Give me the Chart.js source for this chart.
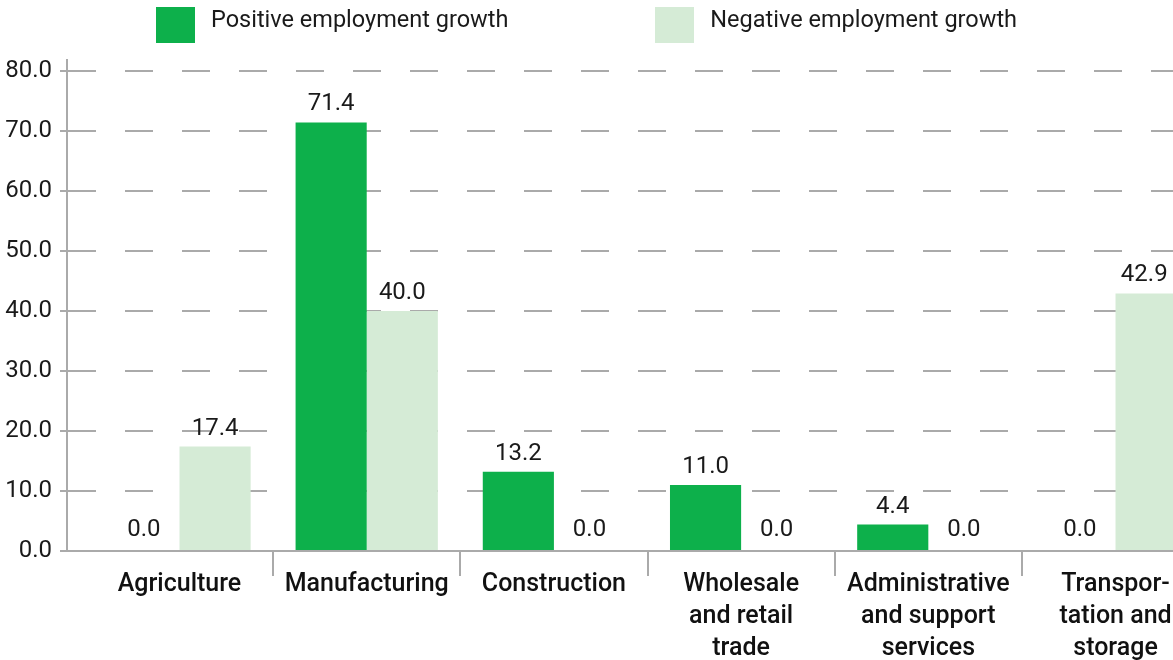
<!DOCTYPE html>
<html>
<head>
<meta charset="utf-8">
<script src="https://cdn.jsdelivr.net/npm/chart.js@4"></script>
<style>
  body { margin: 0; background: #fff; }
  #wrap { position: relative; width: 1173px; height: 660px; }
  #legend {
    position: absolute; top: 0; left: 0; width: 1173px;
    display: flex; justify-content: center; align-items: flex-start;
    font-family: Roboto, sans-serif; font-size: 23.5px; color: #1a1a1a;
  }
  .item { display: flex; align-items: flex-start; }
  .item + .item { margin-left: 147px; }
  .box { width: 39px; height: 36px; margin-top: 7px; margin-right: 16px; }
  .txt { line-height: 24px; margin-top: 7px; white-space: nowrap; }
</style>
</head>
<body>
<div id="wrap">
  <div id="legend"></div>
  <canvas id="chart"></canvas>
</div>
<script>
// data
var categories = [
  ["Agriculture"],
  ["Manufacturing"],
  ["Construction"],
  ["Wholesale", "and retail", "trade"],
  ["Administrative", "and support", "services"],
  ["Transpor-", "tation and", "storage"]
];
var positiveGrowth = [0.0, 71.4, 13.2, 11.0, 4.4, 0.0];
var negativeGrowth = [17.4, 40.0, 0.0, 0.0, 0.0, 42.9];
var seriesNames = ["Positive employment growth", "Negative employment growth"];
var seriesColors = ["#0db04b", "#d5ebd6"];
var yTicks = [0, 10, 20, 30, 40, 50, 60, 70, 80];

// legend in html so the spacing can follow the picture
var legendEl = document.getElementById("legend");
seriesNames.forEach((name, i) => {
  var item = document.createElement("div");
  item.className = "item";
  var box = document.createElement("div");
  box.className = "box";
  box.style.background = seriesColors[i];
  var txt = document.createElement("div");
  txt.className = "txt";
  txt.textContent = name;
  item.appendChild(box);
  item.appendChild(txt);
  legendEl.appendChild(item);
});

const valueLabels = {
  id: "valueLabels",
  afterDatasetsDraw(chart) {
    var ctx = chart.ctx;
    var right = chart.chartArea.right;
    ctx.save();
    ctx.font = "24px Roboto";
    ctx.fillStyle = "#1a1a1a";
    ctx.textAlign = "center";
    ctx.textBaseline = "alphabetic";
    chart.data.datasets.forEach((ds, di) => {
      var meta = chart.getDatasetMeta(di);
      meta.data.forEach((bar, index) => {
        var gap = ds.data[index] === 0 ? 15 : 12;
        // centre on the visible part of the bar (last one is cropped)
        var left = bar.x - bar.width / 2;
        var x = (left + Math.min(right, bar.x + bar.width / 2)) / 2;
        ctx.fillText(ds.data[index].toFixed(1), x, bar.y - gap);
      });
    });
    ctx.restore();
  },
};

var chartctx = document.getElementById("chart");
var growthChart = new Chart(chartctx, {
  type: "bar",
  data: {
    labels: categories,
    datasets: [
      {
        data: positiveGrowth,
        label: seriesNames[0],
        backgroundColor: seriesColors[0],
      },
      {
        data: negativeGrowth,
        label: seriesNames[1],
        backgroundColor: seriesColors[1],
      },
    ],
  },
  options: {
    responsive: true,
    maintainAspectRatio: false,
    animation: false,
    layout: { padding: { top: 60, left: 0, right: 0, bottom: 0 } },
    datasets: {
      bar: { categoryPercentage: 0.76, barPercentage: 1.0 },
    },
    plugins: {
      legend: { display: false },
      tooltip: { enabled: false },
    },
    scales: {
      x: {
        offset: true,
        // the source leaves a small gap left of the first group and crops the last one
        afterBuildTicks: (scale) => {
          scale._startValue = -0.601;
          scale._valueRange = 5.908;
        },
        afterFit: (scale) => {
          scale.height = 109;
        },
        grid: {
          offset: true,
          drawOnChartArea: false,
          drawTicks: true,
          tickLength: 25,
          lineWidth: 2,
          color: (c) => (c.index === 0 ? "rgba(0,0,0,0)" : "#aaaaaa"),
        },
        border: { display: true, color: "#aaaaaa", width: 2 },
        ticks: {
          padding: -7,
          maxRotation: 0,
          autoSkip: false,
          color: "#111111",
          font: { family: "Roboto", size: 25, weight: "500", lineHeight: 1.28 },
        },
      },
      y: {
        min: 0,
        max: 81.8,
        afterBuildTicks: (scale) => {
          scale.ticks = yTicks.map((v) => ({ value: v }));
        },
        afterFit: (scale) => {
          scale.width = 67;
        },
        grid: {
          color: "#aaaaaa",
          lineWidth: 2,
          tickLength: 7,
          tickBorderDash: [28, 29],
        },
        border: { display: true, color: "#aaaaaa", width: 2, dash: [28, 29] },
        ticks: {
          padding: 8,
          color: "#1a1a1a",
          font: { family: "Roboto", size: 24 },
          callback: (v) => Number(v).toFixed(1),
        },
      },
    },
  },
  plugins: [valueLabels],
});
</script>
</body>
</html>
